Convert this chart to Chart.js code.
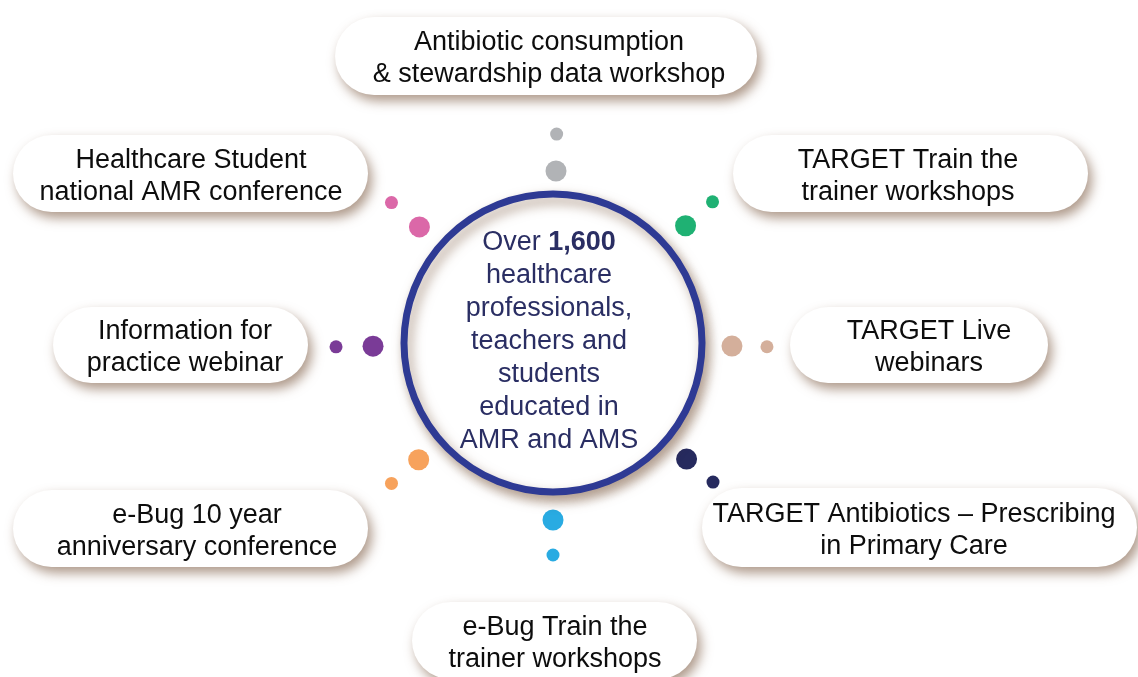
<!DOCTYPE html>
<html>
<head>
<meta charset="utf-8">
<script src="https://cdn.jsdelivr.net/npm/chart.js@4.4.1/dist/chart.umd.min.js"></script>
<style>
  html, body { margin: 0; padding: 0; background: #ffffff; }
  #wrap { width: 1138px; height: 677px; position: relative; }
</style>
</head>
<body>
<div id="wrap"><canvas id="c"></canvas></div>
<script>
// ---- data ----
const activities = [
  ["Antibiotic consumption", "& stewardship data workshop"],
  ["TARGET Train the", "trainer workshops"],
  ["TARGET Live", "webinars"],
  ["TARGET Antibiotics \u2013 Prescribing", "in Primary Care"],
  ["e-Bug Train the", "trainer workshops"],
  ["e-Bug 10 year", "anniversary conference"],
  ["Information for", "practice webinar"],
  ["Healthcare Student", "national AMR conference"]
];
const dotAngles = [-89, -41.5, 1, 41, 90, 139, 179, -139];
const innerDist = [172, 177, 179, 177, 177, 178, 180, 177];
const outerDist = [209, 213, 214, 212, 212, 214, 217, 214];
const dotColors = ["#b1b3b6", "#1fb173", "#d4af9b", "#262a5e", "#29abe2", "#f7a25c", "#7a3b97", "#db68a8"];
const headlineLines = [["Over ", "1,600"], ["healthcare"], ["professionals,"], ["teachers and"], ["students"], ["educated in"], ["AMR and AMS"]];

// ---- layout (not data) ----
const hub = { x: 553, y: 343, r: 149 };
const BIG_R = 10.5, SMALL_R = 6.5;
const boxes = [ // [left, top, right, bottom, textCenterX]
  [335, 17, 757, 95, 549],
  [733, 135, 1088, 212, 908],
  [790, 307, 1048, 383, 929],
  [702, 488, 1137, 567, 914],
  [412, 602, 697, 679, 555],
  [13, 490, 368, 567, 197],
  [53, 307, 308, 383, 185],
  [13, 135, 368, 212, 191]
];

function ringPoints(dists, r) {
  return dotAngles.map((a, i) => ({
    x: hub.x + dists[i] * Math.cos(a * Math.PI / 180),
    y: hub.y + dists[i] * Math.sin(a * Math.PI / 180),
    r: r
  }));
}

const FONT = '"Liberation Sans", Arial, sans-serif';

const shadowPlugin = {
  id: 'hubShadow',
  beforeDatasetDraw(chart, args) {
    if (args.index === 0) {
      const ctx = chart.ctx;
      ctx.save();
      ctx.shadowColor = 'rgba(120,85,60,0.55)';
      ctx.shadowBlur = 12;
      ctx.shadowOffsetX = 4;
      ctx.shadowOffsetY = 6;
    }
  },
  afterDatasetDraw(chart, args) {
    if (args.index === 0) chart.ctx.restore();
  }
};

const boxPlugin = {
  id: 'boxes',
  beforeDatasetsDraw(chart) {
    const ctx = chart.ctx;
    const xs = chart.scales.x, ys = chart.scales.y;
    boxes.forEach((b, i) => {
      const l = xs.getPixelForValue(b[0]), t = ys.getPixelForValue(b[1]);
      const r = xs.getPixelForValue(b[2]), bt = ys.getPixelForValue(b[3]);
      const h = bt - t, rad = h / 2;
      ctx.save();
      ctx.shadowColor = 'rgba(120,85,60,0.6)';
      ctx.shadowBlur = 12;
      ctx.shadowOffsetX = 4;
      ctx.shadowOffsetY = 6;
      ctx.fillStyle = '#ffffff';
      ctx.beginPath();
      ctx.roundRect(l, t, r - l, h, rad);
      ctx.fill();
      ctx.restore();
      ctx.save();
      ctx.fillStyle = '#0d0d0d';
      ctx.font = '27px ' + FONT;
      ctx.textAlign = 'center';
      ctx.textBaseline = 'middle';
      const cx = xs.getPixelForValue(b[4]);
      const cy = (t + bt) / 2 + 3;
      const lines = activities[i];
      lines.forEach((ln, k) => {
        ctx.fillText(ln, cx, cy + (k - (lines.length - 1) / 2) * 32);
      });
      ctx.restore();
    });
  },
  afterDatasetsDraw(chart) {
    const ctx = chart.ctx;
    const xs = chart.scales.x, ys = chart.scales.y;
    const cx = xs.getPixelForValue(hub.x) - 4;
    const cy = ys.getPixelForValue(hub.y);
    const lh = 33;
    ctx.save();
    ctx.fillStyle = '#2a2e63';
    ctx.textBaseline = 'middle';
    headlineLines.forEach((parts, k) => {
      const y = cy + (k - (headlineLines.length - 1) / 2) * lh - 1;
      const fonts = parts.map((p, j) => (j === 1 ? 'bold 27px ' : '27px ') + FONT);
      let total = 0;
      const widths = parts.map((p, j) => { ctx.font = fonts[j]; const w = ctx.measureText(p).width; total += w; return w; });
      let x = cx - total / 2;
      ctx.textAlign = 'left';
      parts.forEach((p, j) => { ctx.font = fonts[j]; ctx.fillText(p, x, y); x += widths[j]; });
    });
    ctx.restore();
  }
};

new Chart(document.getElementById('c'), {
  type: 'bubble',
  data: {
    datasets: [
      {
        label: 'hub',
        data: [{ x: hub.x, y: hub.y, r: hub.r }],
        backgroundColor: '#ffffff',
        borderColor: '#2e3a94',
        borderWidth: 7,
        hoverBorderWidth: 7,
        clip: false
      },
      {
        label: 'inner dots',
        data: ringPoints(innerDist, BIG_R),
        backgroundColor: dotColors,
        borderColor: dotColors,
        borderWidth: 0,
        clip: false
      },
      {
        label: 'outer dots',
        data: ringPoints(outerDist, SMALL_R),
        backgroundColor: dotColors,
        borderColor: dotColors,
        borderWidth: 0,
        clip: false
      }
    ]
  },
  options: {
    responsive: true,
    maintainAspectRatio: false,
    animation: false,
    events: [],
    layout: { padding: 0, autoPadding: false },
    plugins: { legend: { display: false }, tooltip: { enabled: false } },
    scales: {
      x: { type: 'linear', min: 0, max: 1138, display: false },
      y: { type: 'linear', min: 0, max: 677, reverse: true, display: false }
    }
  },
  plugins: [shadowPlugin, boxPlugin]
});
</script>
</body>
</html>
